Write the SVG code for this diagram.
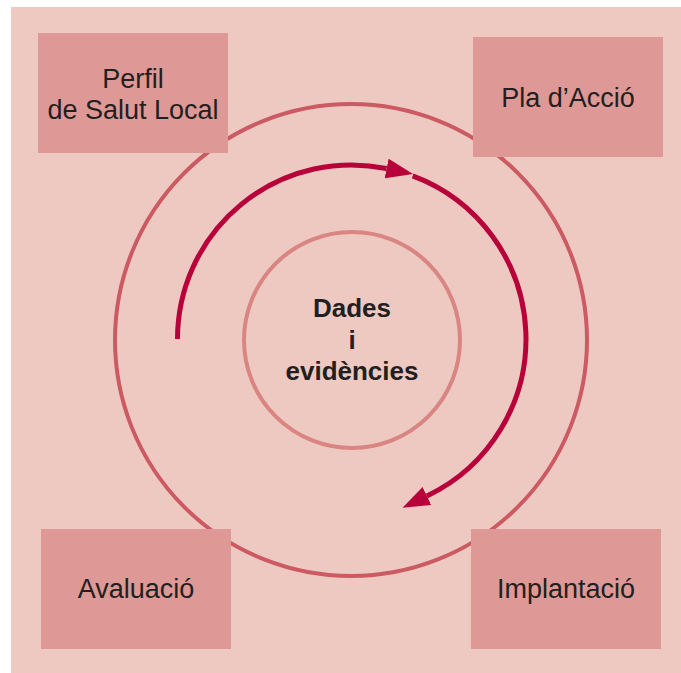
<svg xmlns="http://www.w3.org/2000/svg" width="681" height="673" viewBox="0 0 681 673">
  <style>
    .box { fill: #de9896; }
    .lbl { font-family: "Liberation Sans", Arial, sans-serif; font-size: 27px; fill: #231f20; text-anchor: middle; }
    .ctr { font-weight: bold; font-size: 26px; }
    .arc { fill: none; stroke: #b8003a; stroke-width: 5; }
  </style>
  <defs>
    <marker id="ah" markerUnits="userSpaceOnUse" markerWidth="28" markerHeight="22" refX="0" refY="10" orient="auto" viewBox="0 0 28 20">
      <path d="M0,0 L27,10 L0,20 Z" fill="#b8003a"/>
    </marker>
  </defs>
  <rect x="11" y="7" width="670" height="666" fill="#eec9c2"/>

  <g id="outer-circle">
    <circle cx="351" cy="340" r="236" fill="none" stroke="#cc5a62" stroke-width="4"/>
  </g>

  <g id="connectors">
    <path class="arc" d="M177.5 339 A174 174 0 0 1 386.6 168.5" marker-end="url(#ah)"/>
    <path class="arc" d="M412.7 175.9 A174 174 0 0 1 426.9 496" marker-end="url(#ah)"/>
  </g>

  <g id="center">
    <circle cx="352" cy="340" r="108" fill="none" stroke="#d98582" stroke-width="4"/>
    <text class="lbl ctr" x="352" y="317">Dades</text>
    <text class="lbl ctr" x="352" y="348.5">i</text>
    <text class="lbl ctr" x="352" y="380">evidències</text>
  </g>

  <g id="perfil">
    <rect class="box" x="38" y="33" width="190" height="120"/>
    <text class="lbl" x="133" y="87.5">Perfil</text>
    <text class="lbl" x="133" y="118.5">de Salut Local</text>
  </g>

  <g id="pla">
    <rect class="box" x="473" y="37" width="190" height="120"/>
    <text class="lbl" x="568" y="107">Pla d’Acció</text>
  </g>

  <g id="avaluacio">
    <rect class="box" x="41" y="529" width="190" height="120"/>
    <text class="lbl" x="136" y="598">Avaluació</text>
  </g>

  <g id="implantacio">
    <rect class="box" x="471" y="529" width="190" height="120"/>
    <text class="lbl" x="566" y="598">Implantació</text>
  </g>
</svg>
